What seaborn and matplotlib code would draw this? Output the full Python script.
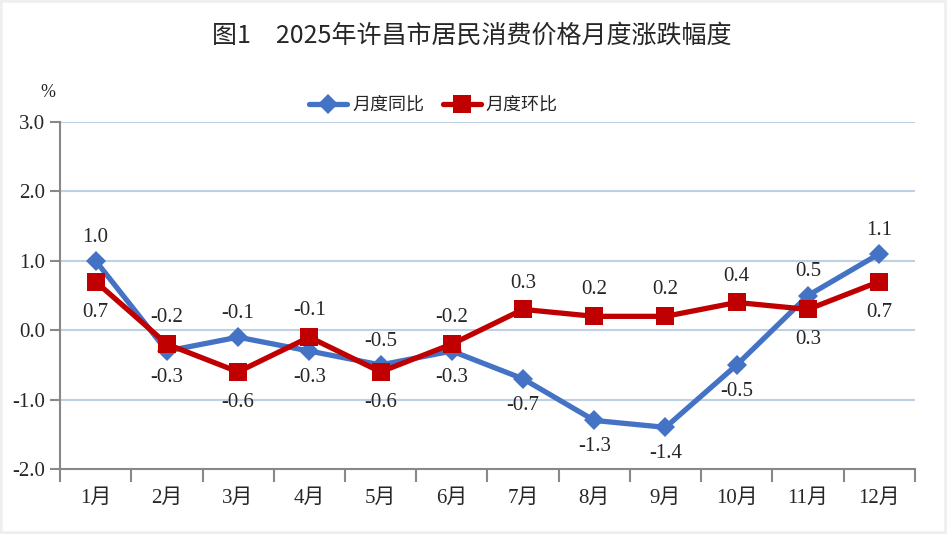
import matplotlib
matplotlib.use("Agg")
import matplotlib.pyplot as plt
import seaborn as sns
import pandas as pd
from matplotlib.patches import Rectangle

months = ["1月", "2月", "3月", "4月", "5月", "6月", "7月", "8月", "9月", "10月", "11月", "12月"]
yoy = [1.0, -0.3, -0.1, -0.3, -0.5, -0.3, -0.7, -1.3, -1.4, -0.5, 0.5, 1.1]
mom = [0.7, -0.2, -0.6, -0.1, -0.6, -0.2, 0.3, 0.2, 0.2, 0.4, 0.3, 0.7]
yoy_name = "月度同比"
mom_name = "月度环比"
title = "图1　2025年许昌市居民消费价格月度涨跌幅度"
yticks = [3.0, 2.0, 1.0, 0.0, -1.0, -2.0]

# label placement: True = above the point
yoy_above = [True, False, True, False, True, False, False, False, False, False, True, True]
mom_above = [False, True, False, True, False, True, True, True, True, True, False, False]

sns.set_theme(style="white")
plt.rcParams["font.family"] = ["Liberation Serif", "Noto Sans CJK SC", "DejaVu Sans"]

fig = plt.figure(figsize=(9.47, 5.34), dpi=100)
ax = fig.add_axes([0.0634, 0.1217, 0.9026, 0.6498])

df = pd.DataFrame({"month": months, "yoy": yoy, "mom": mom})
blue = "#4472C4"
red = "#C00000"

sns.lineplot(data=df, x="month", y="yoy", ax=ax, color=blue, lw=3.8,
             marker="D", markersize=10, markeredgewidth=0, label=yoy_name, sort=False)
sns.lineplot(data=df, x="month", y="mom", ax=ax, color=red, lw=3.8,
             marker="s", markersize=13, markeredgewidth=0, label=mom_name, sort=False)

ax.set_xlim(-0.5, 11.5)
ax.set_ylim(-2.0, 3.0)
ax.set_yticks(yticks)
ax.set_yticklabels([f"{v:.1f}" for v in yticks], fontsize=15)
ax.set_xticks(range(len(months)))
ax.set_xticklabels(months, fontsize=15)
ax.set_xlabel("")
ax.set_ylabel("")

# grid
for v in yticks:
    if v > -2.0:
        ax.axhline(v, color="#BDD0E4", lw=1.5, zorder=0)

for s in ["top", "right"]:
    ax.spines[s].set_visible(False)
for s in ["left", "bottom"]:
    ax.spines[s].set_color("#888888")
    ax.spines[s].set_linewidth(1.5)

ax.tick_params(axis="y", which="major", direction="out", length=7, width=1.5, color="#888888", pad=4, left=True)
ax.tick_params(axis="x", which="major", length=0, pad=14)
ax.set_xticks([i - 0.5 for i in range(len(months) + 1)], minor=True)
ax.tick_params(axis="x", which="minor", direction="out", length=9, width=1.5, color="#888888", bottom=True)

for i in range(len(months)):
    ax.annotate(f"{yoy[i]:.1f}", (i, yoy[i]), xytext=(0, 17 if yoy_above[i] else -19),
                textcoords="offset points", ha="center", va="center", fontsize=15)
    ax.annotate(f"{mom[i]:.1f}", (i, mom[i]), xytext=(0, 19 if mom_above[i] else -22),
                textcoords="offset points", ha="center", va="center", fontsize=15)

ax.text(-0.014, 1.086, "%", transform=ax.transAxes, fontsize=13, ha="center", va="center")

leg = ax.legend(loc="center", bbox_to_anchor=(0.437, 1.049), ncol=2, frameon=False,
                handlelength=2.1, columnspacing=1.0, handletextpad=0.3,
                prop={"family": ["Noto Sans CJK SC"], "size": 13})

fig.text(0.498, 0.934, title, ha="center", va="center", fontsize=18,
         family=["Noto Sans CJK SC"], weight="medium")

fig.patches.append(Rectangle((0, 0), 1, 1, transform=fig.transFigure, fill=False,
                             edgecolor="#EFEFEF", lw=4, zorder=10))

fig.savefig("out.png", dpi=100)
